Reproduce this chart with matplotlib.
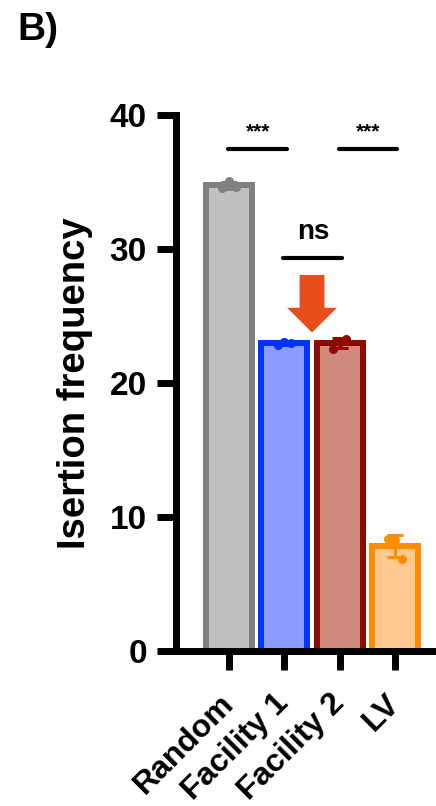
import numpy as np
import matplotlib
matplotlib.use("Agg")
import matplotlib.pyplot as plt

plt.rcParams['font.family'] = ['Liberation Sans', 'DejaVu Sans']
plt.rcParams['font.weight'] = 'bold'

# Groups and replicate measurements
categories = ["Random", "Facility 1", "Facility 2", "LV"]
replicates = [
    [34.6, 35.1, 34.7],
    [22.9, 23.1, 23.0],
    [22.6, 23.1, 23.3],
    [8.4, 8.3, 6.9],
]
fill_colors = ["#C0C0C0", "#8C9CFF", "#D28A7D", "#FFC98F"]
edge_colors = ["#808080", "#0033FF", "#8E0A00", "#FF8C00"]
y_ticks = [0, 10, 20, 30, 40]

# Significance brackets: (left group, right group, label)
comparisons = [(0, 1, "***"), (2, 3, "***"), (1, 2, "ns")]
bracket_levels = [37.5, 37.5, 29.4]

means = [np.mean(r) for r in replicates]
sds = [np.std(r, ddof=1) for r in replicates]
x = np.arange(len(categories))

fig = plt.figure(figsize=(4.36, 8.06), dpi=100)
ax = fig.add_axes([0.4037, 0.1917, 0.5963, 0.665])

ax.bar(x, means, width=0.83, color=fill_colors, edgecolor=edge_colors,
       linewidth=4.3, zorder=2)
for i in range(len(categories)):
    ax.errorbar(x[i], means[i], yerr=sds[i], color=edge_colors[i],
                elinewidth=2.2, capsize=6, capthick=2.2, zorder=3)
    ax.scatter(np.full(len(replicates[i]), x[i]) + np.array([-0.12, 0.0, 0.12]),
               replicates[i], s=30, color=edge_colors[i], zorder=4,
               clip_on=False)

ax.set_xlim(-0.958, 3.74)
ax.set_ylim(0, 40)
ax.set_yticks(y_ticks)
ax.set_xticks(x)
ax.set_xticklabels(categories, rotation=45, ha='right', va='center',
                   rotation_mode='anchor', fontsize=23, fontweight='bold')
for lbl in ax.get_yticklabels():
    lbl.set_fontsize(24)
    lbl.set_fontweight('bold')

ax.tick_params(axis='both', width=5, length=14, color='black')
ax.tick_params(axis='x', pad=20)
ax.tick_params(axis='y', pad=7)
for side in ['top', 'right']:
    ax.spines[side].set_visible(False)
for side in ['left', 'bottom']:
    ax.spines[side].set_linewidth(5)

ax.set_ylabel("Isertion frequency", fontsize=27.5, fontweight='bold', labelpad=12)

# Significance bars and labels
for (a, b, txt), lvl in zip(comparisons, bracket_levels):
    ax.plot([x[a] - 0.02, x[b] + 0.04], [lvl, lvl], color='black', lw=3,
            solid_capstyle='round', zorder=5)
    if txt == "ns":
        ax.text((x[a] + x[b]) / 2 + 0.02, lvl + 0.9, txt, ha='center',
                va='bottom', fontsize=20, fontweight='bold')
    else:
        ax.text((x[a] + x[b]) / 2 + 0.02, lvl + 0.6, txt, ha='center',
                va='bottom', fontsize=15, fontweight='bold')

# Arrow pointing to the facility comparison
ax.arrow(1.5, 28.1, 0, -4.3, width=0.45, head_width=0.9, head_length=1.85,
         length_includes_head=True, color='#E84E1B', linewidth=0, zorder=6)

fig.text(0.04, 0.985, "B)", fontsize=28, fontweight='bold', ha='left', va='top')

fig.savefig("out.png", dpi=100)
